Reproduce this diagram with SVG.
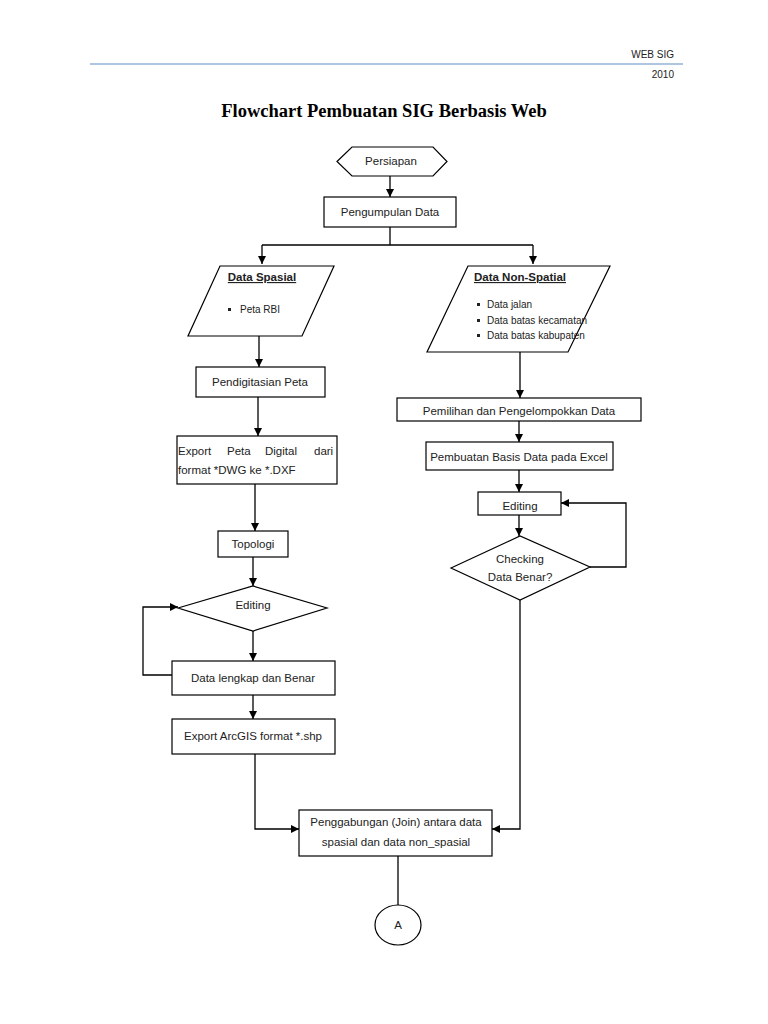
<svg xmlns="http://www.w3.org/2000/svg" width="768" height="1024" viewBox="0 0 768 1024">
<style>
.n{fill:#fff;stroke:#000;stroke-width:1.2}
.t{font-family:"Liberation Sans",Arial,sans-serif;font-size:11.5px;fill:#222;text-anchor:middle}
.l{font-family:"Liberation Sans",Arial,sans-serif;font-size:11.5px;fill:#222}
.h{font-family:"Liberation Sans",Arial,sans-serif;font-size:11.5px;fill:#222;font-weight:bold;text-anchor:middle;text-decoration:underline}
.c{fill:none;stroke:#000;stroke-width:1.3}
.b{fill:#222}
</style>
<defs>
<marker id="ah" viewBox="0 0 10 10" refX="10" refY="5" markerWidth="8" markerHeight="8" markerUnits="userSpaceOnUse" orient="auto">
<path d="M0,0 L10,5 L0,10 Z" fill="#000"/>
</marker>
</defs>
<rect width="768" height="1024" fill="#fff"/>
<g id="header">
<text x="674" y="58" class="l" style="text-anchor:end;font-size:10px">WEB SIG</text>
<line x1="90" y1="64" x2="683" y2="64" stroke="#95b3d7" stroke-width="1.5"/>
<text x="674" y="78" class="l" style="text-anchor:end;font-size:10px">2010</text>
<text x="384" y="117" style="font-family:'Liberation Serif','Times New Roman',serif;font-size:18.5px;font-weight:bold;text-anchor:middle;fill:#000">Flowchart Pembuatan SIG Berbasis Web</text>
</g>
<g id="connectors">
<line class="c" x1="390" y1="176" x2="390" y2="197" marker-end="url(#ah)"/>
<polyline class="c" points="390,227 390,245"/>
<polyline class="c" points="262,245 533,245"/>
<line class="c" x1="262" y1="245" x2="262" y2="264" marker-end="url(#ah)"/>
<line class="c" x1="533" y1="245" x2="533" y2="264" marker-end="url(#ah)"/>
<line class="c" x1="259" y1="336" x2="259" y2="367" marker-end="url(#ah)"/>
<line class="c" x1="258" y1="397" x2="258" y2="436" marker-end="url(#ah)"/>
<line class="c" x1="255" y1="484" x2="255" y2="531" marker-end="url(#ah)"/>
<line class="c" x1="253" y1="557" x2="253" y2="586" marker-end="url(#ah)"/>
<line class="c" x1="253" y1="631" x2="253" y2="661" marker-end="url(#ah)"/>
<polyline class="c" points="172,675 143,675 143,607 178,607" marker-end="url(#ah)"/>
<line class="c" x1="253" y1="695" x2="253" y2="719" marker-end="url(#ah)"/>
<polyline class="c" points="255,754 255,829 299,829" marker-end="url(#ah)"/>
<line class="c" x1="520" y1="352" x2="520" y2="398" marker-end="url(#ah)"/>
<line class="c" x1="519" y1="421" x2="519" y2="442" marker-end="url(#ah)"/>
<line class="c" x1="519" y1="470" x2="519" y2="492" marker-end="url(#ah)"/>
<line class="c" x1="519" y1="515" x2="519" y2="536" marker-end="url(#ah)"/>
<polyline class="c" points="590,567 626,567 626,503 561,503" marker-end="url(#ah)"/>
<polyline class="c" points="520,600 520,829 492,829" marker-end="url(#ah)"/>
<line class="c" x1="398" y1="856" x2="398" y2="905"/>
</g>
<g id="persiapan">
<polygon class="n" points="337,161.5 352,147 433,147 447,161.5 433,176 352,176"/>
<text x="391" y="165" class="t">Persiapan</text>
</g>
<g id="pengumpulan">
<rect class="n" x="324" y="197" width="132" height="30"/>
<text x="390" y="216" class="t">Pengumpulan Data</text>
</g>
<g id="data-spasial">
<polygon class="n" points="220,266 334,266 302,336 188,336"/>
<text x="262" y="281" class="h">Data Spasial</text>
<rect class="b" x="228" y="308" width="3" height="3"/>
<text x="240" y="313" class="l" style="font-size:10px">Peta RBI</text>
</g>
<g id="data-non-spatial">
<polygon class="n" points="468,266 610,266 568,352 427,352"/>
<text x="520" y="281" class="h">Data Non-Spatial</text>
<rect class="b" x="477" y="303" width="3" height="3"/>
<text x="487" y="308" class="l" style="font-size:10px">Data jalan</text>
<rect class="b" x="477" y="319" width="3" height="3"/>
<text x="487" y="324" class="l" style="font-size:10px">Data batas kecamatan</text>
<rect class="b" x="477" y="334" width="3" height="3"/>
<text x="487" y="339" class="l" style="font-size:10px">Data batas kabupaten</text>
</g>
<g id="pendigitasian">
<rect class="n" x="196" y="367" width="129" height="30"/>
<text x="260" y="386" class="t">Pendigitasian Peta</text>
</g>
<g id="export-dxf">
<rect class="n" x="177" y="436" width="160" height="48"/>
<text y="455" class="l"><tspan x="178">Export</tspan><tspan x="227">Peta</tspan><tspan x="265">Digital</tspan><tspan x="314">dari</tspan></text>
<text x="178" y="474" class="l">format *DWG ke *.DXF</text>
</g>
<g id="topologi">
<rect class="n" x="218" y="531" width="70" height="26"/>
<text x="253" y="548" class="t">Topologi</text>
</g>
<g id="editing-left">
<polygon class="n" points="178,608 253,586 327,608 253,631"/>
<text x="253" y="609" class="t">Editing</text>
</g>
<g id="data-lengkap">
<rect class="n" x="172" y="661" width="163" height="34"/>
<text x="253" y="682" class="t">Data lengkap dan Benar</text>
</g>
<g id="export-shp">
<rect class="n" x="172" y="719" width="163" height="35"/>
<text x="253" y="740" class="t">Export ArcGIS format *.shp</text>
</g>
<g id="pemilihan">
<rect class="n" x="397" y="398" width="244" height="23"/>
<text x="519" y="415" class="t">Pemilihan dan Pengelompokkan Data</text>
</g>
<g id="pembuatan">
<rect class="n" x="426" y="442" width="187" height="28"/>
<text x="519" y="461" class="t">Pembuatan Basis Data pada Excel</text>
</g>
<g id="editing-right">
<rect class="n" x="478" y="492" width="83" height="23"/>
<text x="520" y="510" class="t">Editing</text>
</g>
<g id="checking">
<polygon class="n" points="451,568 520,536 590,567 520,600"/>
<text x="520" y="563" class="t">Checking</text>
<text x="520" y="581" class="t">Data Benar?</text>
</g>
<g id="penggabungan">
<rect class="n" x="299" y="810" width="193" height="46"/>
<text x="396" y="826" class="t">Penggabungan (Join) antara data</text>
<text x="396" y="846" class="t">spasial dan data non_spasial</text>
</g>
<g id="connector-a">
<ellipse class="n" cx="398" cy="925" rx="23" ry="20"/>
<text x="398" y="929" class="t">A</text>
</g>
</svg>
